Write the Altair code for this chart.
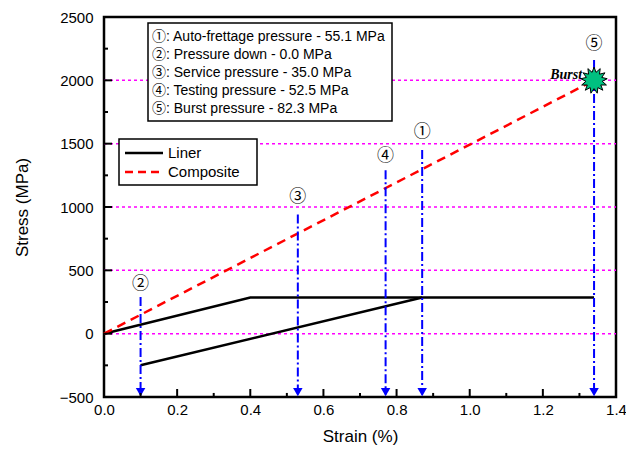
import math
import altair as alt
import pandas as pd

# ---------------- data ----------------
liner_strain = [0.0, 0.40, 1.34]
liner_stress = [0, 285, 285]
unload_strain = [0.87, 0.10]
unload_stress = [285, -250]
comp_strain = [0.0, 1.34]
comp_stress = [0, 2000]

event_labels = ["①", "②", "③", "④", "⑤"]
event_strain = [0.87, 0.10, 0.53, 0.77, 1.34]
event_top = [1450, 290, 940, 1290, 2160]
event_label_y = [1590, 395, 1080, 1400, 2290]

grid_y = [0, 500, 1000, 1500, 2000]
x_major = [0.0, 0.2, 0.4, 0.6, 0.8, 1.0, 1.2, 1.4]
x_minor = [0.1, 0.3, 0.5, 0.7, 0.9, 1.1, 1.3]
y_major = [-500, 0, 500, 1000, 1500, 2000, 2500]
y_minor = [-250, 250, 750, 1250, 1750, 2250]

info_lines = [
    "①: Auto-frettage pressure - 55.1 MPa",
    "②: Pressure down - 0.0 MPa",
    "③: Service pressure - 35.0 MPa",
    "④: Testing pressure - 52.5 MPa",
    "⑤: Burst pressure - 82.3 MPa",
]
series_names = ["Liner", "Composite"]
burst_strain = [1.34]
burst_stress = [2000]

W, H = 512, 380
SANS = "Liberation Sans, Arial, Noto Sans CJK JP"
xs = alt.Scale(domain=[0, 1.4], nice=False, zero=False)
ys = alt.Scale(domain=[-500, 2500], nice=False, zero=False)

xaxis = alt.Axis(values=x_major, format=".1f", ticks=False, domain=False, grid=False,
                 labelFlush=False, labelPadding=5, labelFontSize=15, labelFont=SANS,
                 labelColor="black", titleFontSize=17, titleFont=SANS, titleFontWeight="normal",
                 titleColor="black", titlePadding=11)
yaxis = alt.Axis(values=y_major, format="d", ticks=False, domain=False, grid=False,
                 labelFlush=False, labelPadding=11, labelFontSize=15, labelFont=SANS,
                 labelColor="black", titleFontSize=17, titleFont=SANS, titleFontWeight="normal",
                 titleColor="black", titleX=-82, titleY=H / 2, titleBaseline="middle")


def X(f):
    return alt.X(f, type="quantitative", scale=xs, axis=xaxis, title="Strain (%)")


def Y(f):
    return alt.Y(f, type="quantitative", scale=ys, axis=yaxis, title="Stress (MPa)")


# ---------------- frames ----------------
liner_df = pd.DataFrame({
    "x": liner_strain + unload_strain,
    "y": liner_stress + unload_stress,
    "seg": ["load"] * len(liner_strain) + ["unload"] * len(unload_strain),
    "o": list(range(len(liner_strain))) + list(range(len(unload_strain))),
})
comp_df = pd.DataFrame({"x": comp_strain, "y": comp_stress})
ev_df = pd.DataFrame({"x": event_strain, "top": event_top, "ly": event_label_y,
                      "lab": event_labels, "bot": [-480] * 5, "head": [-462] * 5})
grid_df = pd.DataFrame({"gy": grid_y, "x0": [0.0] * len(grid_y), "x1": [1.4] * len(grid_y)})
xt_df = pd.DataFrame({"x": x_major + x_minor,
                      "ty": [-500] * (len(x_major) + len(x_minor)),
                      "ty2": [-437] * len(x_major) + [-468] * len(x_minor)})
yt_df = pd.DataFrame({"ty": y_major + y_minor,
                      "tx": [0.0] * (len(y_major) + len(y_minor)),
                      "tx2": [0.022] * len(y_major) + [0.011] * len(y_minor)})
info_df = pd.DataFrame({"t": info_lines, "py": [20 + 18 * i for i in range(len(info_lines))]})
leg_df = pd.DataFrame({"t": series_names, "py": [136, 155]})
burst_df = pd.DataFrame({"x": burst_strain, "y": burst_stress, "t": ["Burst"]})

# spiky star path
pts = []
n = 13
for i in range(2 * n):
    r = 1.0 if i % 2 == 0 else 0.62
    a = math.pi * i / n - math.pi / 2
    pts.append(f"{r * math.cos(a):.3f},{r * math.sin(a):.3f}")
star_path = "M" + " L".join(pts) + " Z"

one = pd.DataFrame({"a": [0]})

grid = alt.Chart(grid_df).mark_rule(stroke="#ff00ff", strokeDash=[3, 3], strokeWidth=1.5,
                                    opacity=1).encode(
    x=X("x0"), x2="x1:Q", y=Y("gy"))

box1 = alt.Chart(one).mark_rect(fill="white", stroke="black", strokeWidth=1.5).encode(
    x=alt.value(44), x2=alt.value(288), y=alt.value(6), y2=alt.value(104))
box2 = alt.Chart(one).mark_rect(fill="white", stroke="black", strokeWidth=1.5).encode(
    x=alt.value(15), x2=alt.value(153), y=alt.value(122), y2=alt.value(168))

info_text = alt.Chart(info_df).mark_text(align="left", baseline="middle", fontSize=14, font=SANS,
                                         color="black").encode(
    x=alt.value(48), y=alt.Y("py:Q", scale=None), text="t:N")

leg_solid = alt.Chart(leg_df.iloc[[0]]).mark_rule(color="black", strokeWidth=2.5).encode(
    x=alt.value(21), x2=alt.value(59), y=alt.Y("py:Q", scale=None))
leg_dash = alt.Chart(leg_df.iloc[[1]]).mark_rule(color="red", strokeWidth=2.5, strokeDash=[8, 5]).encode(
    x=alt.value(21), x2=alt.value(59), y=alt.Y("py:Q", scale=None))
leg_text = alt.Chart(leg_df).mark_text(align="left", baseline="middle", fontSize=15, font=SANS,
                                       color="black").encode(
    x=alt.value(64), y=alt.Y("py:Q", scale=None), text="t:N")

liner = alt.Chart(liner_df).mark_line(color="black", strokeWidth=2.5).encode(
    x=X("x"), y=Y("y"), detail="seg:N", order="o:Q")
comp = alt.Chart(comp_df).mark_line(color="red", strokeWidth=2.5, strokeDash=[9, 6]).encode(
    x=X("x"), y=Y("y"))

arrows = alt.Chart(ev_df).mark_rule(color="#0000ff", strokeWidth=2, strokeDash=[9, 3, 2, 3]).encode(
    x=X("x"), y=Y("top"), y2="bot:Q")
heads = alt.Chart(ev_df).mark_point(shape="triangle-down", filled=True, color="#0000ff", size=90,
                                    opacity=1).encode(
    x=X("x"), y=Y("head"))
ev_text = alt.Chart(ev_df).mark_text(fontSize=17, font="Noto Sans CJK JP, DejaVu Sans", color="black",
                                     baseline="middle").encode(
    x=X("x"), y=Y("ly"), text="lab:N")

star = alt.Chart(burst_df).mark_point(shape=star_path, filled=True, fill="#00c080", stroke="black",
                                      strokeWidth=1, size=700, opacity=1).encode(
    x=X("x"), y=Y("y"))
burst_text = alt.Chart(burst_df).mark_text(align="right", baseline="middle", dx=-12, dy=-5,
                                           fontSize=14, font="Liberation Serif, Times New Roman",
                                           fontStyle="italic", fontWeight="bold", color="black").encode(
    x=X("x"), y=Y("y"), text="t:N")

xticks = alt.Chart(xt_df).mark_rule(color="black", strokeWidth=2).encode(
    x=X("x"), y=Y("ty"), y2="ty2:Q")
yticks = alt.Chart(yt_df).mark_rule(color="black", strokeWidth=2).encode(
    x=X("tx"), x2="tx2:Q", y=Y("ty"))

chart = alt.layer(
    grid, box1, box2, info_text, leg_solid, leg_dash, leg_text,
    liner, comp, arrows, heads, ev_text, star, burst_text, xticks, yticks,
).properties(
    width=W, height=H,
    autosize=alt.AutoSizeParams(type="none"),
    padding={"left": 96, "top": 9, "right": 10, "bottom": 50},
).configure(background="white").configure_view(
    stroke="black", strokeWidth=2.5
).configure_axis(titleFontWeight="normal", gridColor="#ff00ff")

chart.save("out.html", embed_options={"renderer": "svg", "actions": False})
